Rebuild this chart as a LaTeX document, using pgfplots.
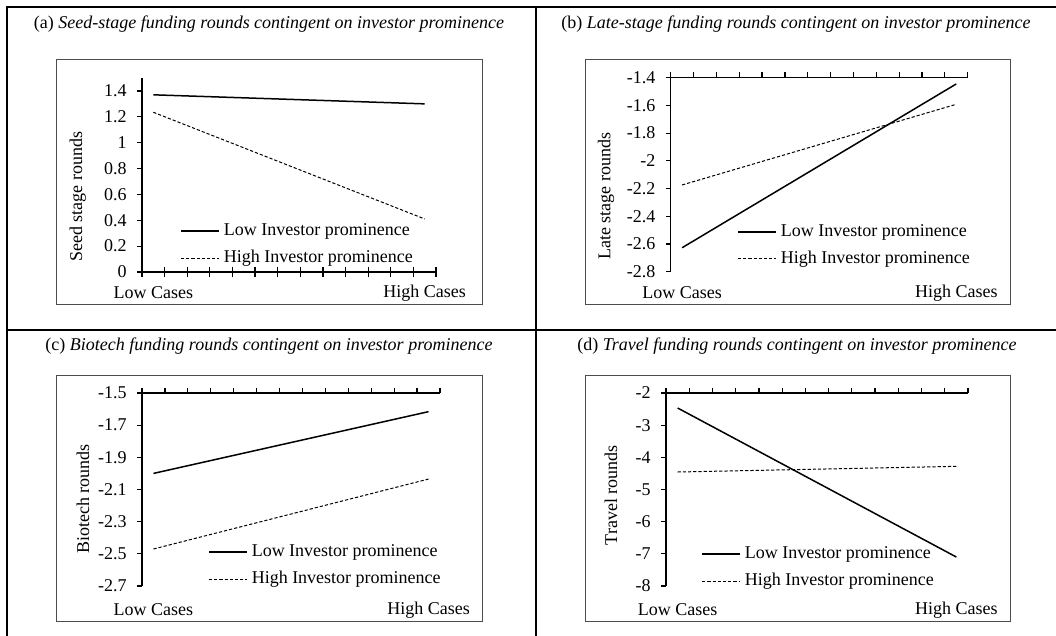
\documentclass[border=0pt]{standalone}
\usepackage{fontspec}
\setmainfont{Liberation Serif}
\usepackage{pgfplots}
\pgfplotsset{compat=1.18}

\newcommand{\pfont}{\fontsize{9}{11}\selectfont}

\pgfplotsset{
  lowline/.style={black, solid, line width=0.75pt},
  highline/.style={black, dash pattern=on 1.6pt off 1pt, line width=0.5pt},
  panel/.style={
    scale only axis,
    xmin=0, xmax=13,
    xtick={0,1,...,13}, xticklabels={},
    extra x ticks={0.5,12.5},
    extra x tick labels={Low Cases,High Cases},
    axis y line*=left, ytick pos=left,
    axis line style={black, line width=0.6pt},
    major tick length=2.6pt,
    every tick/.style={black, line width=0.6pt},
    tick label style={font=\pfont},
    yticklabel style={xshift=-1.5pt},
    /pgf/number format/assume math mode=true,
    label style={font=\pfont},
    clip=false,
    legend style={draw=none, fill=none, font=\pfont, anchor=north west,
      inner sep=0pt, row sep=2pt, legend cell align=left},
  },
}
\pgfplotsset{legend image code/.code={\draw[#1] (0pt,0pt) -- (19pt,0pt);}}

\begin{document}
\begin{tikzpicture}
\path[use as bounding box] (0pt,0pt) rectangle (528pt,-318pt);
% table grid
\draw[line width=0.7pt] (3.5pt,-318pt) -- (3.5pt,-3.5pt) -- (528pt,-3.5pt);
\draw[line width=0.7pt] (268pt,-3.5pt) -- (268pt,-318pt);
\draw[line width=0.7pt] (3.5pt,-165pt) -- (528pt,-165pt);
% chart area borders
\draw[gray!60!black, line width=0.5pt] (28pt,-30pt) rectangle (241pt,-152.5pt);
\draw[gray!60!black, line width=0.5pt] (292.5pt,-30pt) rectangle (505pt,-152.5pt);
\draw[gray!60!black, line width=0.5pt] (28pt,-188pt) rectangle (241pt,-310.5pt);
\draw[gray!60!black, line width=0.5pt] (292.5pt,-188pt) rectangle (505pt,-310.5pt);
% titles
\node[font=\pfont] at (134.5pt,-12pt) {(a) \textit{Seed-stage funding rounds contingent on investor prominence}};
\node[font=\pfont] at (398pt,-12pt) {(b) \textit{Late-stage funding rounds contingent on investor prominence}};
\node[font=\pfont] at (134.5pt,-173pt) {(c) \textit{Biotech funding rounds contingent on investor prominence}};
\node[font=\pfont] at (398.5pt,-173pt) {(d) \textit{Travel funding rounds contingent on investor prominence}};

% (a)
\begin{axis}[panel, at={(71pt,-136pt)}, anchor=south west,
  width=147pt, height=97pt,
  axis x line*=bottom, xtick pos=left, xticklabel pos=left,
  tick align=outside,
  extra x tick style={major tick length=0pt, tick style={draw=none},
      tick label style={anchor=center, yshift=-10.5pt}},
  ymin=0, ymax=1.5, ytick={0,0.2,0.4,0.6,0.8,1,1.2,1.4},
  ylabel={Seed stage rounds},
  ylabel style={at={(axis description cs:-0.218,0.387)}, anchor=center},
  legend style={at={(axis description cs:0.129,0.273)}},
]
\addplot[lowline] coordinates {(0.5,1.37) (12.5,1.30)};
\addlegendentry{Low Investor prominence}
\addplot[highline] coordinates {(0.5,1.235) (12.5,0.41)};
\addlegendentry{High Investor prominence}
\end{axis}
% (a) category ticks pointing up from the horizontal axis
\begin{axis}[at={(71pt,-136pt)}, anchor=north west, scale only axis,
  width=147pt, height=1pt, xmin=0, xmax=13, ymin=0, ymax=1,
  axis x line*=top, axis y line=none, xtick pos=right,
  tick align=outside, major tick length=2.6pt,
  every tick/.style={black, line width=0.6pt},
  axis line style={black, line width=0.6pt},
  xtick={0,1,...,13}, xticklabels={}, ytick=\empty]
\end{axis}

% (b)
\begin{axis}[panel, at={(335.35pt,-135.85pt)}, anchor=south west,
  width=148.5pt, height=97pt,
  axis x line*=top, xtick pos=right, xticklabel pos=right,
  tick align=outside,
  extra x tick style={major tick length=0pt, tick style={draw=none},
      tick label style={anchor=center, yshift=-107.5pt}},
  ymin=-2.8, ymax=-1.4, ytick={-2.8,-2.6,-2.4,-2.2,-2,-1.8,-1.6,-1.4},
  ylabel={Late stage rounds},
  ylabel style={at={(axis description cs:-0.218,0.39)}, anchor=center},
  legend style={at={(axis description cs:0.223,0.267)}},
]
\addplot[lowline] coordinates {(0.5,-2.627) (12.5,-1.445)};
\addlegendentry{Low Investor prominence}
\addplot[highline] coordinates {(0.5,-2.174) (12.5,-1.592)};
\addlegendentry{High Investor prominence}
\end{axis}

% (c)
\begin{axis}[panel, at={(71pt,-293pt)}, anchor=south west,
  width=149pt, height=96.5pt,
  axis x line*=top, xtick pos=right, xticklabel pos=right,
  tick align=outside,
  extra x tick style={major tick length=0pt, tick style={draw=none},
      tick label style={anchor=center, yshift=-108.5pt}},
  ymin=-2.7, ymax=-1.5, ytick={-2.7,-2.5,-2.3,-2.1,-1.9,-1.7,-1.5},
  ylabel={Biotech rounds},
  ylabel style={at={(axis description cs:-0.198,0.45)}, anchor=center},
  legend style={at={(axis description cs:0.221,0.238)}},
]
\addplot[lowline] coordinates {(0.5,-2.00) (12.5,-1.616)};
\addlegendentry{Low Investor prominence}
\addplot[highline] coordinates {(0.5,-2.47) (12.5,-2.035)};
\addlegendentry{High Investor prominence}
\end{axis}

% (d)
\begin{axis}[panel, at={(333pt,-293pt)}, anchor=south west,
  width=151pt, height=96.5pt,
  axis x line*=top, xtick pos=right, xticklabel pos=right,
  tick align=outside,
  extra x tick style={major tick length=0pt, tick style={draw=none},
      tick label style={anchor=center, yshift=-108.5pt}},
  ymin=-8, ymax=-2, ytick={-8,-7,-6,-5,-4,-3,-2},
  ylabel={Travel rounds},
  ylabel style={at={(axis description cs:-0.182,0.47)}, anchor=center},
  legend style={at={(axis description cs:0.116,0.228)}},
]
\addplot[lowline] coordinates {(0.5,-2.466) (12.5,-7.10)};
\addlegendentry{Low Investor prominence}
\addplot[highline] coordinates {(0.5,-4.456) (12.5,-4.28)};
\addlegendentry{High Investor prominence}
\end{axis}
\end{tikzpicture}
\end{document}
